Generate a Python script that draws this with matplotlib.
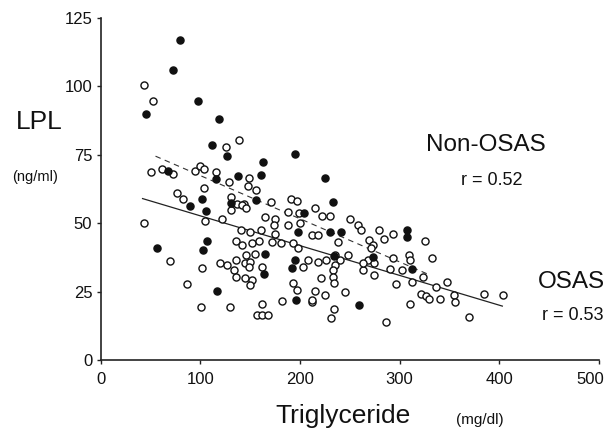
import matplotlib
matplotlib.use('Agg')
import matplotlib.pyplot as plt
from matplotlib.transforms import ScaledTranslation

plt.rcParams['font.family'] = ['Liberation Sans', 'DejaVu Sans']

# open circles
open_pts = [
    (43.1, 100.6), (52.3, 94.6), (125.4, 77.9), (138.6, 80.3), (50.7, 68.7), (61.3, 69.7),
    (72.3, 68.1), (94.5, 68.9), (100, 71), (104, 69.9), (116, 68.7), (128.7, 65.1),
    (104, 62.7), (76.2, 61.2), (82.2, 58.7), (130.3, 59.6), (130.3, 54.7), (137, 57.2),
    (143.6, 57.2), (122, 51.7), (43.4, 50.1), (104.8, 50.7), (140.3, 47.4), (135.3, 43.5),
    (141.3, 42.2), (141.9, 56.6), (70, 36.1), (102.1, 33.8), (119.7, 35.3), (127, 34.7),
    (135.3, 36.7), (145.3, 38.3), (133.6, 32.8), (135.3, 30.4), (145, 35.3), (145, 29.9),
    (86.2, 27.6), (101.1, 19.5), (129.4, 19.2),
    (161.8, 20.4), (156.8, 16.4), (161.8, 16.4), (167.8, 16.4), (181.7, 21.5), (211.6, 21.3),
    (233.8, 18.5), (231.5, 15.4), (286.2, 13.8),
    (149.3, 66.7), (147.9, 63.5), (155.8, 62), (171.1, 57.8), (190.6, 59), (196.6, 58),
    (145.3, 55.4), (188.4, 54.1), (199.3, 53.8), (215.5, 55.6), (222.2, 52.6), (229.9, 52.6),
    (165.2, 52.3), (175.1, 51.7), (249.8, 51.7),
    (258.0, 49.5), (261.0, 47.4), (173.4, 49.3), (150.2, 46.8), (161.2, 47.4), (175.1, 46.2),
    (188.4, 49.3), (199.9, 49.9), (211.6, 45.6), (218.2, 45.6), (238.1, 43.2), (151.8, 42.8),
    (158.5, 43.5), (171.7, 43.2), (181, 42.8), (193.3, 42.6), (198.3, 40.8), (155.2, 38.9),
    (150.2, 35.9), (148.6, 34), (161.8, 34), (151.8, 29.2), (150.2, 27.4), (208.3, 36.5),
    (218.2, 35.9), (226.5, 36.5), (203.3, 34), (234.8, 38.3), (248.1, 38.3), (240, 36.5),
    (234.8, 34.7), (233.1, 32.8), (221.5, 29.8), (233, 30.2), (234.1, 28), (193.3, 28.2),
    (196.6, 25.5), (215.5, 25.3), (212.2, 21.9), (224.9, 23.7), (245.4, 24.9),
    (269.7, 43.8), (273, 42), (271.3, 40.8), (268, 36.5), (274.6, 35.3), (263, 32.8),
    (279.6, 47.4), (292.8, 46.2), (284.6, 44.4), (325, 43.5), (263, 35.3), (274, 31),
    (292.8, 37.1), (309.4, 38.3), (310.4, 36.5), (332.6, 37.1), (290.5, 33.1), (302.8, 32.8),
    (323.7, 30.2), (347.6, 28.6), (336.6, 26.5), (312.7, 28.6), (296.1, 27.7), (321, 24.3),
    (326, 23.4), (329.4, 22.2), (340.3, 22.2), (354.2, 23.7), (355.8, 21.3), (310.4, 20.4),
    (369.2, 15.8), (384.7, 24.3), (403.3, 23.7),
]
open_x = [p[0] for p in open_pts]
open_y = [p[1] for p in open_pts]

# filled circles
filled_pts = [
    (79.6, 116.8), (72.2, 106), (45.1, 89.8), (98.1, 94.6), (118.7, 88.2), (112, 78.7),
    (127, 74.5), (67.3, 69), (115.4, 66), (138, 67.2), (101.5, 58.8), (89.9, 56.2),
    (106, 54.4), (130.3, 57.4), (107, 43.5), (56.3, 40.8), (103.1, 40.1), (116.4, 25.3),
    (196, 21.9), (258.7, 20.1), (195, 75.4), (162.5, 72.4), (161.2, 67.5), (224.9, 66.7),
    (155.8, 58.6), (233.1, 57.8), (204.3, 53.8), (197.6, 46.8), (229.9, 46.8), (241.4, 46.8),
    (165.2, 38.9), (163.5, 31.6), (195, 36.5), (191.6, 33.5), (234.1, 38), (273, 37.7),
    (307.1, 47.4), (307.8, 44.8), (312.7, 33.1),
]
filled_x = [p[0] for p in filled_pts]
filled_y = [p[1] for p in filled_pts]

# regression lines (endpoints)
dash_x = [55, 330]
dash_y = [74.5, 31.1]
solid_x = [42, 403]
solid_y = [59.0, 19.7]

xticks = [0, 100, 200, 300, 400, 500]
yticks = [0, 25, 50, 75, 100, 125]

W, H = 607, 432
fig = plt.figure(figsize=(W / 100, H / 100), dpi=100)
ax = fig.add_axes([100.7 / W, 1 - 360 / H, (599 - 100.7) / W, (360 - 18) / H])

ax.plot(dash_x, dash_y, color='#333333', lw=0.8, ls=(0, (5, 4)), zorder=1)
ax.plot(solid_x, solid_y, color='#222222', lw=0.9, zorder=1)
ax.scatter(open_x, open_y, s=26, facecolors='white', edgecolors='#111111', linewidths=1.0, zorder=2)
ax.scatter(filled_x, filled_y, s=26, facecolors='#111111', edgecolors='#111111', linewidths=1.0, zorder=3)

ax.set_xlim(0, 500)
ax.set_ylim(0, 125)
ax.set_xticks(xticks)
ax.set_yticks(yticks)
ax.set_xticklabels([str(t) for t in xticks])
ax.set_yticklabels([str(t) for t in yticks])
for s in ['top', 'right']:
    ax.spines[s].set_visible(False)
for s in ['left', 'bottom']:
    ax.spines[s].set_linewidth(1.2)
    ax.spines[s].set_color('#222222')
ax.tick_params(axis='both', direction='out', length=3, width=1.0, color='#222222',
               labelsize=12, labelcolor='#111111')
ax.tick_params(axis='x', pad=6)
ax.tick_params(axis='y', pad=3)

# keep the last x tick label inside the figure, as in the reference
last = ax.get_xticklabels()[-1]
last.set_transform(last.get_transform() + ScaledTranslation(-9 / 100, 0, fig.dpi_scale_trans))

def ft(px, py, s, size, **kw):
    fig.text(px / W, 1 - py / H, s, fontsize=size, ha='center', va='center', color='#111111', **kw)

ft(39, 122, 'LPL', 19)
ft(35, 177, '(ng/ml)', 10.5)
ft(343, 416, 'Triglyceride', 19)
ft(480, 420, '(mg/dl)', 11)
ft(486, 145, 'Non-OSAS', 17.5)
ft(491.5, 180, 'r = 0.52', 13)
ft(571.5, 282, 'OSAS', 17.5)
ft(573, 315, 'r = 0.53', 13)

fig.savefig('out.png', dpi=100)
